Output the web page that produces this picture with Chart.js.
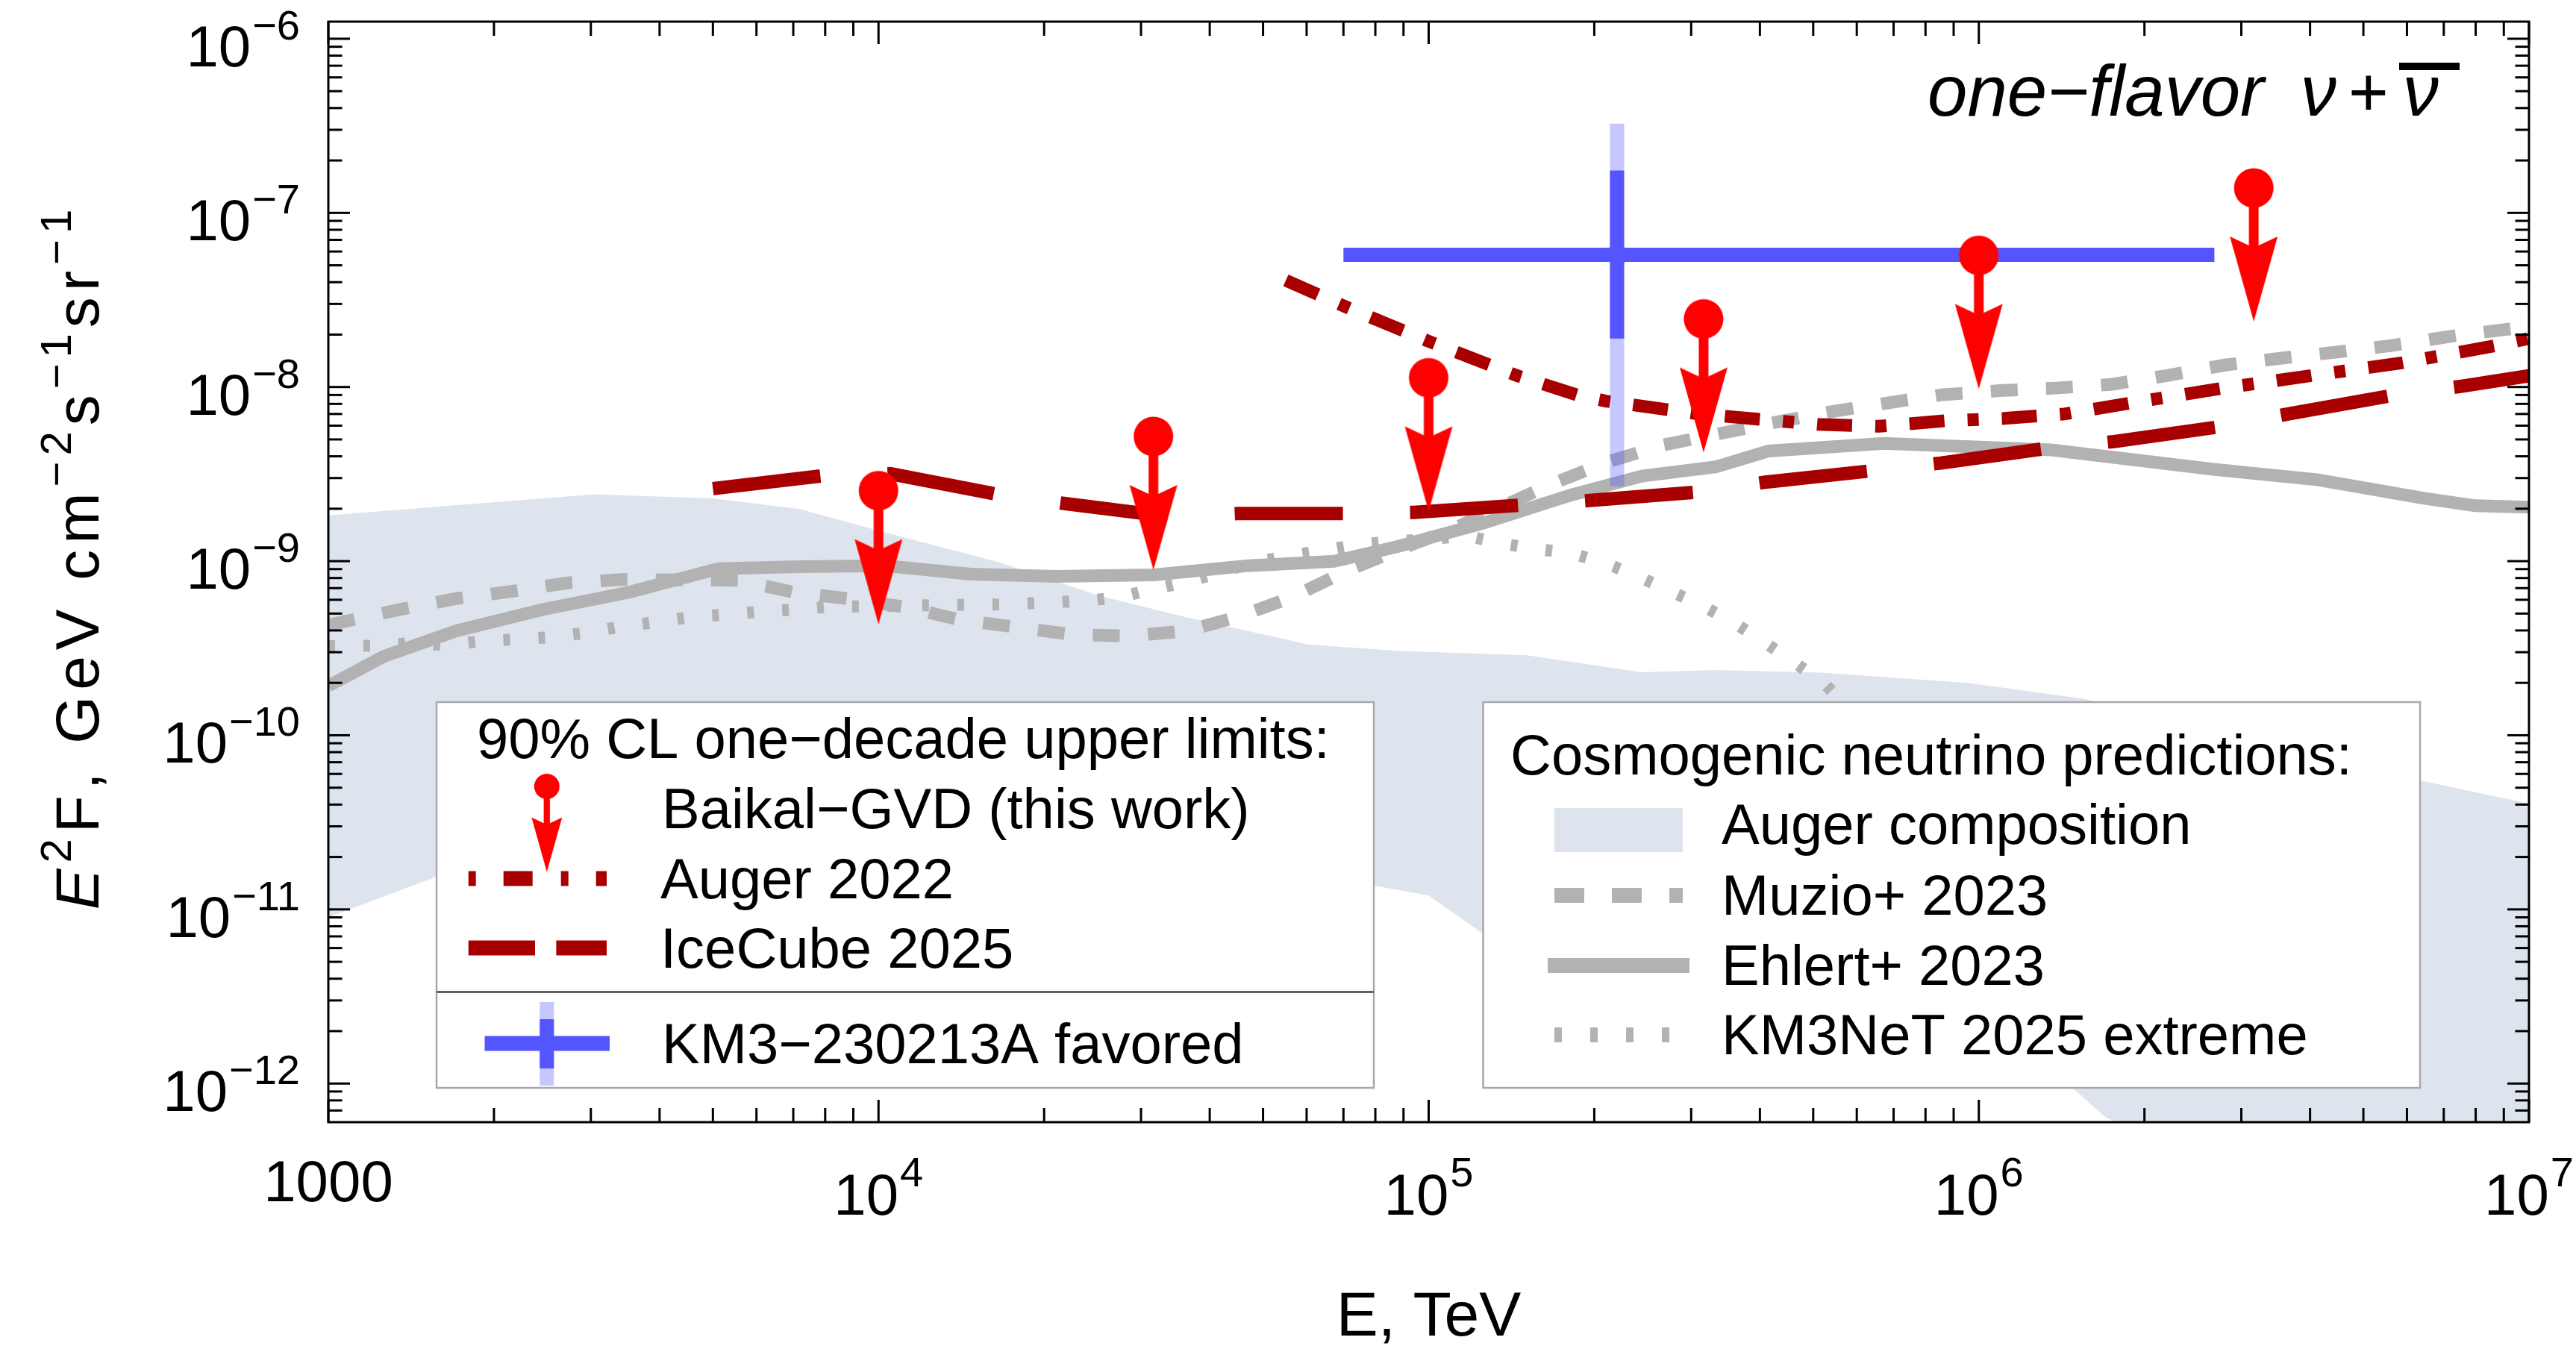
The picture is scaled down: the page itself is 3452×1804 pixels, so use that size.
<!DOCTYPE html>
<html>
<head>
<meta charset="utf-8">
<title>Cosmogenic neutrino limits</title>
<script src="https://cdn.jsdelivr.net/npm/chart.js@4.4.1/dist/chart.umd.min.js"></script>
<style>
html,body{margin:0;padding:0;background:#ffffff;overflow:hidden;}
canvas{display:block;}
</style>
</head>
<body>
<canvas id="chart" width="3452" height="1804"></canvas>
<script>
const FONT = '"Liberation Sans", Arial, Helvetica, sans-serif';

// ---------------- data ----------------
const xTickExponents = [3, 4, 5, 6, 7];
const yTickExponents = [-12, -11, -10, -9, -8, -7, -6];
const xMin = 1000, xMax = 1e7;
const yMin = 6.36e-13, yMax = 1.254e-6;

// Baikal-GVD one-decade upper limits (this work)
const baikalE  = [1e4, 3.16e4, 1e5, 3.16e5, 1e6, 3.16e6];
const baikalUL = [2.54e-9, 5.2e-9, 1.13e-8, 2.46e-8, 5.7e-8, 1.39e-7];

// Auger 2022
const augerE  = [5.5e4, 7.1e4, 1.0e5, 1.45e5, 1.86e5, 2.1e5, 3.1e5, 4.05e5, 5.1e5, 6.6e5, 8.7e5, 1.11e6, 1.43e6, 1.89e6, 2.75e6, 4.0e6, 5.9e6, 8.7e6, 1.0e7];
const augerUL = [4.1e-8, 2.87e-8, 1.83e-8, 1.16e-8, 9.0e-9, 8.3e-9, 7.0e-9, 6.5e-9, 6.1e-9, 5.95e-9, 6.4e-9, 6.6e-9, 7.0e-9, 8.1e-9, 9.8e-9, 1.16e-8, 1.38e-8, 1.73e-8, 1.9e-8];

// IceCube 2025
const icecubeE  = [5.0e3, 7.9e3, 1.05e4, 1.63e4, 2.16e4, 3.39e4, 4.5e4, 7.08e4, 9.4e4, 1.48e5, 1.96e5, 3.08e5, 4.09e5, 6.41e5, 8.53e5, 1.34e6, 1.76e6, 2.75e6, 3.66e6, 5.74e6, 7.55e6, 1.0e7];
const icecubeUL = [2.61e-9, 3.09e-9, 3.18e-9, 2.43e-9, 2.15e-9, 1.80e-9, 1.875e-9, 1.875e-9, 1.905e-9, 2.10e-9, 2.23e-9, 2.49e-9, 2.84e-9, 3.31e-9, 3.66e-9, 4.46e-9, 4.86e-9, 5.92e-9, 7.01e-9, 9.03e-9, 1.01e-8, 1.16e-8];

// KM3-230213A favored flux
const km3E = [2.2e5];
const km3Flux = [5.75e-8];
const km3Erange = [7.0e4, 2.68e6];
const km3FluxInner = [1.9e-8, 1.75e-7];
const km3FluxOuter = [2.7e-9, 3.25e-7];

// Muzio+ 2023
const muzioE = [1000, 1350, 1700, 2150, 2720, 3450, 5560, 7020, 8830, 1.125e4, 1.41e4, 1.79e4, 2.26e4, 2.87e4, 3.64e4, 4.56e4, 5.70e4, 7.10e4, 8.91e4, 1.10e5, 1.69e5, 2.12e5, 2.67e5, 4.26e5, 5.34e5, 6.79e5, 8.55e5, 1.09e6, 1.38e6, 1.74e6, 2.20e6, 2.80e6, 3.53e6, 4.49e6, 5.66e6, 7.19e6, 9.06e6, 1.0e7];
const muzioF = [4.3e-10, 5.28e-10, 6.08e-10, 6.70e-10, 7.50e-10, 7.85e-10, 7.76e-10, 6.62e-10, 6.08e-10, 5.43e-10, 4.59e-10, 4.17e-10, 3.78e-10, 3.72e-10, 3.98e-10, 4.85e-10, 6.29e-10, 8.81e-10, 1.18e-9, 1.52e-9, 2.81e-9, 3.72e-9, 4.65e-9, 6.26e-9, 7.18e-9, 8.08e-9, 9.02e-9, 9.53e-9, 9.86e-9, 1.035e-8, 1.164e-8, 1.337e-8, 1.462e-8, 1.589e-8, 1.734e-8, 1.954e-8, 2.14e-8, 2.21e-8];

// Ehlert+ 2023
const ehlertE = [1000, 1262, 1710, 2450, 3510, 5110, 7190, 1.03e4, 1.47e4, 2.10e4, 3.17e4, 4.70e4, 6.73e4, 8.81e4, 1.26e5, 1.81e5, 2.44e5, 3.33e5, 4.15e5, 6.72e5, 1.355e6, 2.67e6, 4.14e6, 6.42e6, 7.99e6, 1.0e7];
const ehlertF = [1.92e-10, 2.84e-10, 3.98e-10, 5.27e-10, 6.61e-10, 9.04e-10, 9.29e-10, 9.40e-10, 8.42e-10, 8.18e-10, 8.34e-10, 9.42e-10, 9.99e-10, 1.216e-9, 1.656e-9, 2.39e-9, 3.08e-9, 3.48e-9, 4.29e-9, 4.75e-9, 4.35e-9, 3.37e-9, 2.93e-9, 2.30e-9, 2.08e-9, 2.04e-9];

// KM3NeT 2025 extreme
const km3netE = [1000, 1206, 1393, 1622, 1890, 2188, 2540, 2931, 3416, 3941, 4571, 5291, 6166, 7120, 8299, 9572, 1.30e4, 1.74e4, 2.02e4, 2.35e4, 2.72e4, 3.14e4, 3.65e4, 4.83e4, 5.58e4, 6.47e4, 7.49e4, 8.70e4, 1.008e5, 1.17e5, 1.355e5, 1.57e5, 1.82e5, 2.10e5, 2.40e5, 3.15e5, 3.60e5, 4.06e5, 4.62e5, 5.22e5, 6.5e5];
const km3netF = [3.25e-10, 3.27e-10, 3.37e-10, 3.3e-10, 3.46e-10, 3.56e-10, 3.66e-10, 3.87e-10, 4.22e-10, 4.46e-10, 4.79e-10, 4.94e-10, 5.14e-10, 5.28e-10, 5.5e-10, 5.5e-10, 5.6e-10, 5.64e-10, 5.80e-10, 5.90e-10, 6.17e-10, 6.88e-10, 7.61e-10, 9.86e-10, 1.074e-9, 1.155e-9, 1.25e-9, 1.30e-9, 1.338e-9, 1.40e-9, 1.265e-9, 1.175e-9, 1.11e-9, 9.70e-10, 8.18e-10, 5.53e-10, 4.40e-10, 3.45e-10, 2.62e-10, 2.00e-10, 1.0e-10];

// Auger composition band (upper / lower edges)
const bandUpE = [1000, 3040, 5010, 7190, 1.03e4, 1.66e4, 2.51e4, 3.60e4, 6.04e4, 8.81e4, 1.51e5, 2.44e5, 3.33e5, 5.16e5, 9.54e5, 1.55e6, 5.63e6, 1.0e7];
const bandUpF = [1.83e-9, 2.42e-9, 2.29e-9, 1.99e-9, 1.46e-9, 9.84e-10, 6.35e-10, 4.79e-10, 3.32e-10, 3.05e-10, 2.88e-10, 2.30e-10, 2.37e-10, 2.29e-10, 2.0e-10, 1.62e-10, 5.96e-11, 4.05e-11];
const bandLoE = [1000, 1570, 3000, 1e4, 3e4, 1e5, 1.26e5, 1.45e6, 1.7e6, 1.0e7];
const bandLoF = [9.0e-12, 1.54e-11, 2.4e-11, 2.9e-11, 2.4e-11, 1.2e-11, 7.2e-12, 1.0e-12, 6.4e-13, 5e-14];

// ---------------- styles ----------------
const RED = '#FF0000', DARKRED = '#A80000', GRAY = '#B2B2B2', BLUE = '#5555FF', BLUE_LIGHT = 'rgba(85,85,255,0.33)', BAND = '#DEE4EE';

const pts = (E, F) => E.map((e, i) => ({x: e, y: F[i]}));

function makeArrowCanvas() {
  const r = 26.5, tip = 179, hw = 32, hy = 65, ny = 77, sw = 6.5;
  const W = 68, H = 2 * (tip + 4);
  const c = document.createElement('canvas');
  c.width = W; c.height = H;
  const g = c.getContext('2d');
  const cx = W / 2, cy = H / 2;
  g.fillStyle = RED;
  g.beginPath(); g.arc(cx, cy, r, 0, 2 * Math.PI); g.fill();
  g.fillRect(cx - sw, cy, 2 * sw, ny + 2);
  g.beginPath();
  g.moveTo(cx, cy + tip); g.lineTo(cx - hw, cy + hy); g.lineTo(cx - sw, cy + ny);
  g.lineTo(cx + sw, cy + ny); g.lineTo(cx + hw, cy + hy); g.closePath(); g.fill();
  return c;
}
const arrowCanvas = makeArrowCanvas();

function lineDs(label, E, F, color, width, dash, order) {
  return {label, data: pts(E, F), showLine: true, borderColor: color, borderWidth: width,
    borderDash: dash || [], borderCapStyle: 'butt', borderJoinStyle: 'miter', pointRadius: 0, tension: 0,
    fill: false, order, clip: 0};
}

const datasets = [
  {label: 'Auger composition', data: pts(bandUpE, bandUpF), showLine: true, borderWidth: 0, borderColor: 'rgba(0,0,0,0)',
   backgroundColor: BAND, fill: '+1', pointRadius: 0, tension: 0, order: 100, clip: 0},
  {label: 'band lower', data: pts(bandLoE, bandLoF), showLine: true, borderWidth: 0, borderColor: 'rgba(0,0,0,0)',
   fill: false, pointRadius: 0, tension: 0, order: 100, clip: 0},
  lineDs('KM3NeT 2025 extreme', km3netE, km3netF, GRAY, 16, [9, 38], 60),
  lineDs('Muzio+ 2023', muzioE, muzioF, GRAY, 17, [36, 38], 59),
  lineDs('Ehlert+ 2023', ehlertE, ehlertF, GRAY, 17, [], 58),
  lineDs('Auger 2022', augerE, augerUL, DARKRED, 17, [47, 31, 15, 31], 40),
  lineDs('IceCube 2025', icecubeE, icecubeUL, DARKRED, 18, [145, 90], 39),
  lineDs('KM3 outer', [km3E[0], km3E[0]], km3FluxOuter, BLUE_LIGHT, 19, [], 30),
  lineDs('KM3 inner', [km3E[0], km3E[0]], km3FluxInner, BLUE, 19, [], 29),
  lineDs('KM3 energy', km3Erange, [km3Flux[0], km3Flux[0]], BLUE, 19, [], 29),
  {label: 'KM3-230213A favored', data: pts(km3E, km3Flux), showLine: false, pointRadius: 14,
   pointBackgroundColor: BLUE, pointBorderWidth: 0, order: 28, clip: 0},
  {label: 'Baikal-GVD (this work)', data: pts(baikalE, baikalUL), showLine: false, pointStyle: arrowCanvas,
   pointRadius: 10, order: 10, clip: false}
];

// ---------------- text helpers ----------------
function font(size, italic) { return (italic ? 'italic ' : '') + size + 'px ' + FONT; }

function powLabel(ctx, exp, x, baseY, align, f1, f2, raise) {
  ctx.font = font(f1); const w1 = ctx.measureText('10').width;
  ctx.font = font(f2); const w2 = ctx.measureText(exp).width;
  const W = w1 + 2 + w2;
  const x0 = align === 'center' ? x - W / 2 : (align === 'right' ? x - W : x);
  ctx.textAlign = 'left'; ctx.textBaseline = 'alphabetic';
  ctx.font = font(f1); ctx.fillText('10', x0, baseY);
  ctx.font = font(f2); ctx.fillText(exp, x0 + w1 + 2, baseY - raise);
}

// rich text drawn glyph by glyph with a small extra tracking
function richLayout(ctx, segs, f1, f2, track) {
  const out = []; let cx = 0;
  for (const s of segs) {
    ctx.font = font(s.sup ? f2 : f1, s.it);
    for (const ch of s.t) {
      out.push({ch, x: cx, sup: !!s.sup, it: !!s.it});
      cx += ctx.measureText(ch).width + track;
    }
  }
  return {glyphs: out, width: cx - track};
}
function drawRich(ctx, layout, x, y, f1, f2, raise) {
  ctx.textAlign = 'left'; ctx.textBaseline = 'alphabetic';
  for (const g of layout.glyphs) {
    ctx.font = font(g.sup ? f2 : f1, g.it);
    ctx.fillText(g.ch, x + g.x, g.sup ? y - raise : y);
  }
}

function seg(ctx, x1, y1, x2, y2) { ctx.beginPath(); ctx.moveTo(x1, y1); ctx.lineTo(x2, y2); ctx.stroke(); }

// ---------------- legend ----------------
function drawLegends(ctx) {
  const LF = 76;
  ctx.save();
  // left box
  ctx.fillStyle = '#FFFFFF';
  ctx.fillRect(585, 941, 1256, 517);
  ctx.strokeStyle = '#A8A8A8'; ctx.lineWidth = 2.5;
  ctx.strokeRect(585, 941, 1256, 517);
  ctx.strokeStyle = '#606060'; ctx.lineWidth = 3;
  seg(ctx, 585, 1329.5, 1841, 1329.5);
  ctx.fillStyle = '#000'; ctx.font = font(LF); ctx.textAlign = 'left'; ctx.textBaseline = 'alphabetic';
  ctx.fillText('90% CL one\u2212decade upper limits:', 639, 1016);
  ctx.fillText('Baikal\u2212GVD (this work)', 887, 1110);
  ctx.fillText('Auger 2022', 885, 1204);
  ctx.fillText('IceCube 2025', 885, 1297);
  ctx.fillText('KM3\u2212230213A favored', 887, 1425);
  // samples
  ctx.lineCap = 'butt';
  ctx.strokeStyle = DARKRED; ctx.lineWidth = 20;
  ctx.setLineDash([10, 37, 39, 38]); seg(ctx, 627.7, 1177.4, 813, 1177.4);
  ctx.setLineDash([89.3, 28.4]); seg(ctx, 627.7, 1270.5, 813, 1270.5);
  ctx.setLineDash([]);
  const s = 0.64;
  ctx.drawImage(arrowCanvas, 732.8 - arrowCanvas.width * s / 2, 1054 - arrowCanvas.height * s / 2, arrowCanvas.width * s, arrowCanvas.height * s);
  // KM3 cross
  ctx.strokeStyle = BLUE_LIGHT; ctx.lineWidth = 19; seg(ctx, 732.8, 1343, 732.8, 1455);
  ctx.strokeStyle = BLUE; seg(ctx, 732.8, 1366, 732.8, 1432);
  ctx.lineWidth = 20; seg(ctx, 649.5, 1398.5, 817, 1398.5);
  ctx.fillStyle = BLUE; ctx.beginPath(); ctx.arc(732.8, 1398.5, 12, 0, 2 * Math.PI); ctx.fill();

  // right box
  ctx.fillStyle = '#FFFFFF';
  ctx.fillRect(1987.5, 941, 1255.5, 517);
  ctx.strokeStyle = '#A8A8A8'; ctx.lineWidth = 2.5;
  ctx.strokeRect(1987.5, 941, 1255.5, 517);
  ctx.fillStyle = '#000'; ctx.font = font(LF);
  ctx.fillText('Cosmogenic neutrino predictions:', 2024, 1038);
  ctx.fillText('Auger composition', 2307, 1131);
  ctx.fillText('Muzio+ 2023', 2307, 1226);
  ctx.fillText('Ehlert+ 2023', 2307, 1320);
  ctx.fillText('KM3NeT 2025 extreme', 2307, 1413);
  ctx.fillStyle = BAND; ctx.fillRect(2083, 1083, 172, 59);
  ctx.strokeStyle = GRAY; ctx.lineWidth = 20;
  ctx.setLineDash([40, 37]); seg(ctx, 2083, 1200, 2255, 1200);
  ctx.setLineDash([]); seg(ctx, 2074, 1294, 2264, 1294);
  ctx.setLineDash([10, 38]); seg(ctx, 2083, 1387, 2240, 1387);
  ctx.setLineDash([]);
  ctx.restore();
}

const framePlugin = {
  id: 'frameAndLabels',
  afterDraw(chart) {
    const {ctx, chartArea: a, scales} = chart;
    const xs = scales.x, ys = scales.y;
    drawLegends(ctx);
    ctx.save();
    ctx.strokeStyle = '#000'; ctx.lineWidth = 3; ctx.lineCap = 'butt';
    ctx.strokeRect(a.left, a.top, a.right - a.left, a.bottom - a.top);
    // x ticks (inward, bottom and top)
    for (let k = 3; k <= 7; k++) {
      for (let m = 1; m <= 9; m++) {
        const v = m * Math.pow(10, k);
        if (v < xMin * 0.999 || v > xMax * 1.001) continue;
        const px = xs.getPixelForValue(v);
        const len = m === 1 ? 30 : 19;
        seg(ctx, px, a.bottom, px, a.bottom - len);
        seg(ctx, px, a.top, px, a.top + len);
      }
    }
    // y ticks (inward, left and right)
    for (let k = -13; k <= -6; k++) {
      for (let m = 1; m <= 9; m++) {
        const v = m * Math.pow(10, k);
        if (v < yMin || v > yMax) continue;
        const py = ys.getPixelForValue(v);
        const len = m === 1 ? 29 : 18.5;
        seg(ctx, a.left, py, a.left + len, py);
        seg(ctx, a.right, py, a.right - len, py);
      }
    }
    ctx.fillStyle = '#000';
    const TF = 78, SF = 56;
    // x tick labels
    for (const k of xTickExponents) {
      const px = xs.getPixelForValue(Math.pow(10, k));
      if (k === 3) {
        ctx.font = font(TF); ctx.textAlign = 'center'; ctx.textBaseline = 'alphabetic';
        ctx.fillText('1000', px, 1610);
      } else {
        powLabel(ctx, String(k), px, 1628, 'center', TF, SF, 38);
      }
    }
    // y tick labels
    for (const k of yTickExponents) {
      const py = ys.getPixelForValue(Math.pow(10, k));
      powLabel(ctx, '\u2212' + Math.abs(k), 402, py + 37, 'right', TF, SF, 36);
    }
    // x axis title
    ctx.font = font(84); ctx.textAlign = 'center'; ctx.textBaseline = 'alphabetic';
    ctx.fillText('E, TeV', (a.left + a.right) / 2, 1790);
    // y axis title (rotated)
    const segs = [{t: 'E', it: true}, {t: '2', sup: true}, {t: 'F, GeV cm'}, {t: '\u22122', sup: true},
                  {t: 's'}, {t: '\u22121', sup: true}, {t: 'sr'}, {t: '\u22121', sup: true}];
    const YF = 82, YS = 58;
    const lay = richLayout(ctx, segs, YF, YS, 8);
    ctx.save();
    ctx.translate(132, 750);
    ctx.rotate(-Math.PI / 2);
    drawRich(ctx, lay, -lay.width / 2, 0, YF, YS, 37);
    ctx.restore();
    // annotation
    ctx.font = font(96, true); ctx.textAlign = 'left';
    ctx.fillText('one\u2212flavor', 2583, 155);
    ctx.fillText('\u03BD', 3083, 155);
    ctx.font = font(92, false);
    ctx.fillText('+', 3147, 155);
    ctx.font = font(96, true);
    ctx.fillText('\u03BD', 3220, 155);
    ctx.fillRect(3215, 84, 81, 10);
    ctx.restore();
  }
};

new Chart(document.getElementById('chart'), {
  type: 'scatter',
  data: {datasets},
  options: {
    responsive: false, animation: false, devicePixelRatio: 1, events: [],
    layout: {padding: {left: 0, top: 29, right: 63, bottom: 0}},
    plugins: {legend: {display: false}, tooltip: {enabled: false}, title: {display: false}},
    scales: {
      x: {type: 'logarithmic', min: xMin, max: xMax, position: 'bottom',
          ticks: {display: false}, grid: {display: false}, border: {display: false},
          afterFit: (s) => { s.height = 300; }},
      y: {type: 'logarithmic', min: yMin, max: yMax, position: 'left',
          ticks: {display: false}, grid: {display: false}, border: {display: false},
          afterFit: (s) => { s.width = 440; }}
    }
  },
  plugins: [framePlugin]
});
</script>
</body>
</html>
